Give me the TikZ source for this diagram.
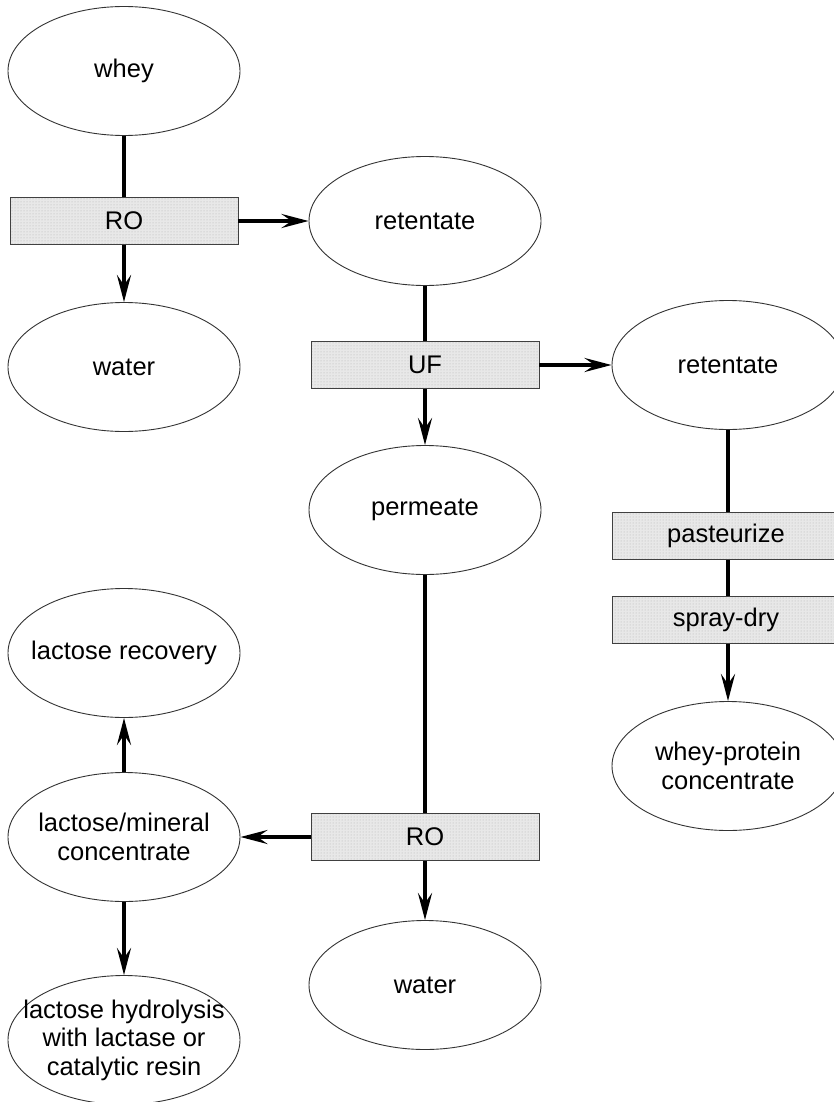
\documentclass[tikz,border=0pt]{standalone}
\usepackage{fontspec}
\setmainfont{Liberation Sans}
\usetikzlibrary{shapes.geometric,arrows.meta,patterns,calc}
\begin{document}
\begin{tikzpicture}[x=1pt,y=-1pt,
  every node/.style={font=\fontsize{25.5}{28.5}\selectfont},
  oval/.style={ellipse, draw=black!80, line width=0.9pt, minimum width=232pt, minimum height=129pt, inner sep=-28pt, align=center, fill=white},
  proc/.style={rectangle, draw=black!75, line width=0.9pt, preaction={fill=black!9}, pattern=dots, pattern color=black!30, minimum width=228pt, minimum height=47pt, inner sep=0pt},
  link/.style={line width=3.8pt},
  flow/.style={link, -{Stealth[length=27pt,width=14pt,inset=10pt]}}]
\useasboundingbox (0,0) rectangle (834,1102);
\fill[white] (0,0) rectangle (834,1102);
\clip (0,0) rectangle (834,1102);
% left column
\node[oval] (whey) at (124,71) {whey};
\node[proc] (ro1) at (124,221) {RO};
\node[oval] (water1) at (124,367) {water};
\node[oval] (lr) at (124,653) {lactose recovery};
\node[oval] (lm) at (124,837) {lactose/mineral\\concentrate};
\node[oval] (hyd) at (124,1040) {lactose hydrolysis\\with lactase or\\catalytic resin};
% middle column
\node[oval] (ret1) at (425,221) {retentate};
\node[proc] (uf) at (425,365) {UF};
\node[oval] (perm) at (425,510) {permeate};
\node[proc] (ro2) at (425,837) {RO};
\node[oval] (water2) at (425,985) {water};
% right column
\node[oval] (ret2) at (728,365) {retentate};
\node[proc] (past) at (726,536) {pasteurize};
\node[proc] (spray) at (726,620) {spray-dry};
\node[oval] (wpc) at (728,766) {whey-protein\\concentrate};
% connectors
\draw[link] (whey.south) -- (ro1.north);
\draw[flow] (ro1.south) -- (water1.north);
\draw[flow] (ro1.east) -- (ret1.west);
\draw[link] (ret1.south) -- (uf.north);
\draw[flow] (uf.south) -- (perm.north);
\draw[flow] (uf.east) -- (ret2.west);
\draw[link] (ret2.south) -- (ret2.south |- past.north);
\draw[link] (ret2.south |- past.south) -- (ret2.south |- spray.north);
\draw[flow] (ret2.south |- spray.south) -- (wpc.north);
\draw[link] (perm.south) -- (ro2.north);
\draw[flow] (ro2.south) -- (water2.north);
\draw[flow] (ro2.west) -- (lm.east);
\draw[flow] (lm.north) -- (lr.south);
\draw[flow] (lm.south) -- (hyd.north);
\end{tikzpicture}
\end{document}
